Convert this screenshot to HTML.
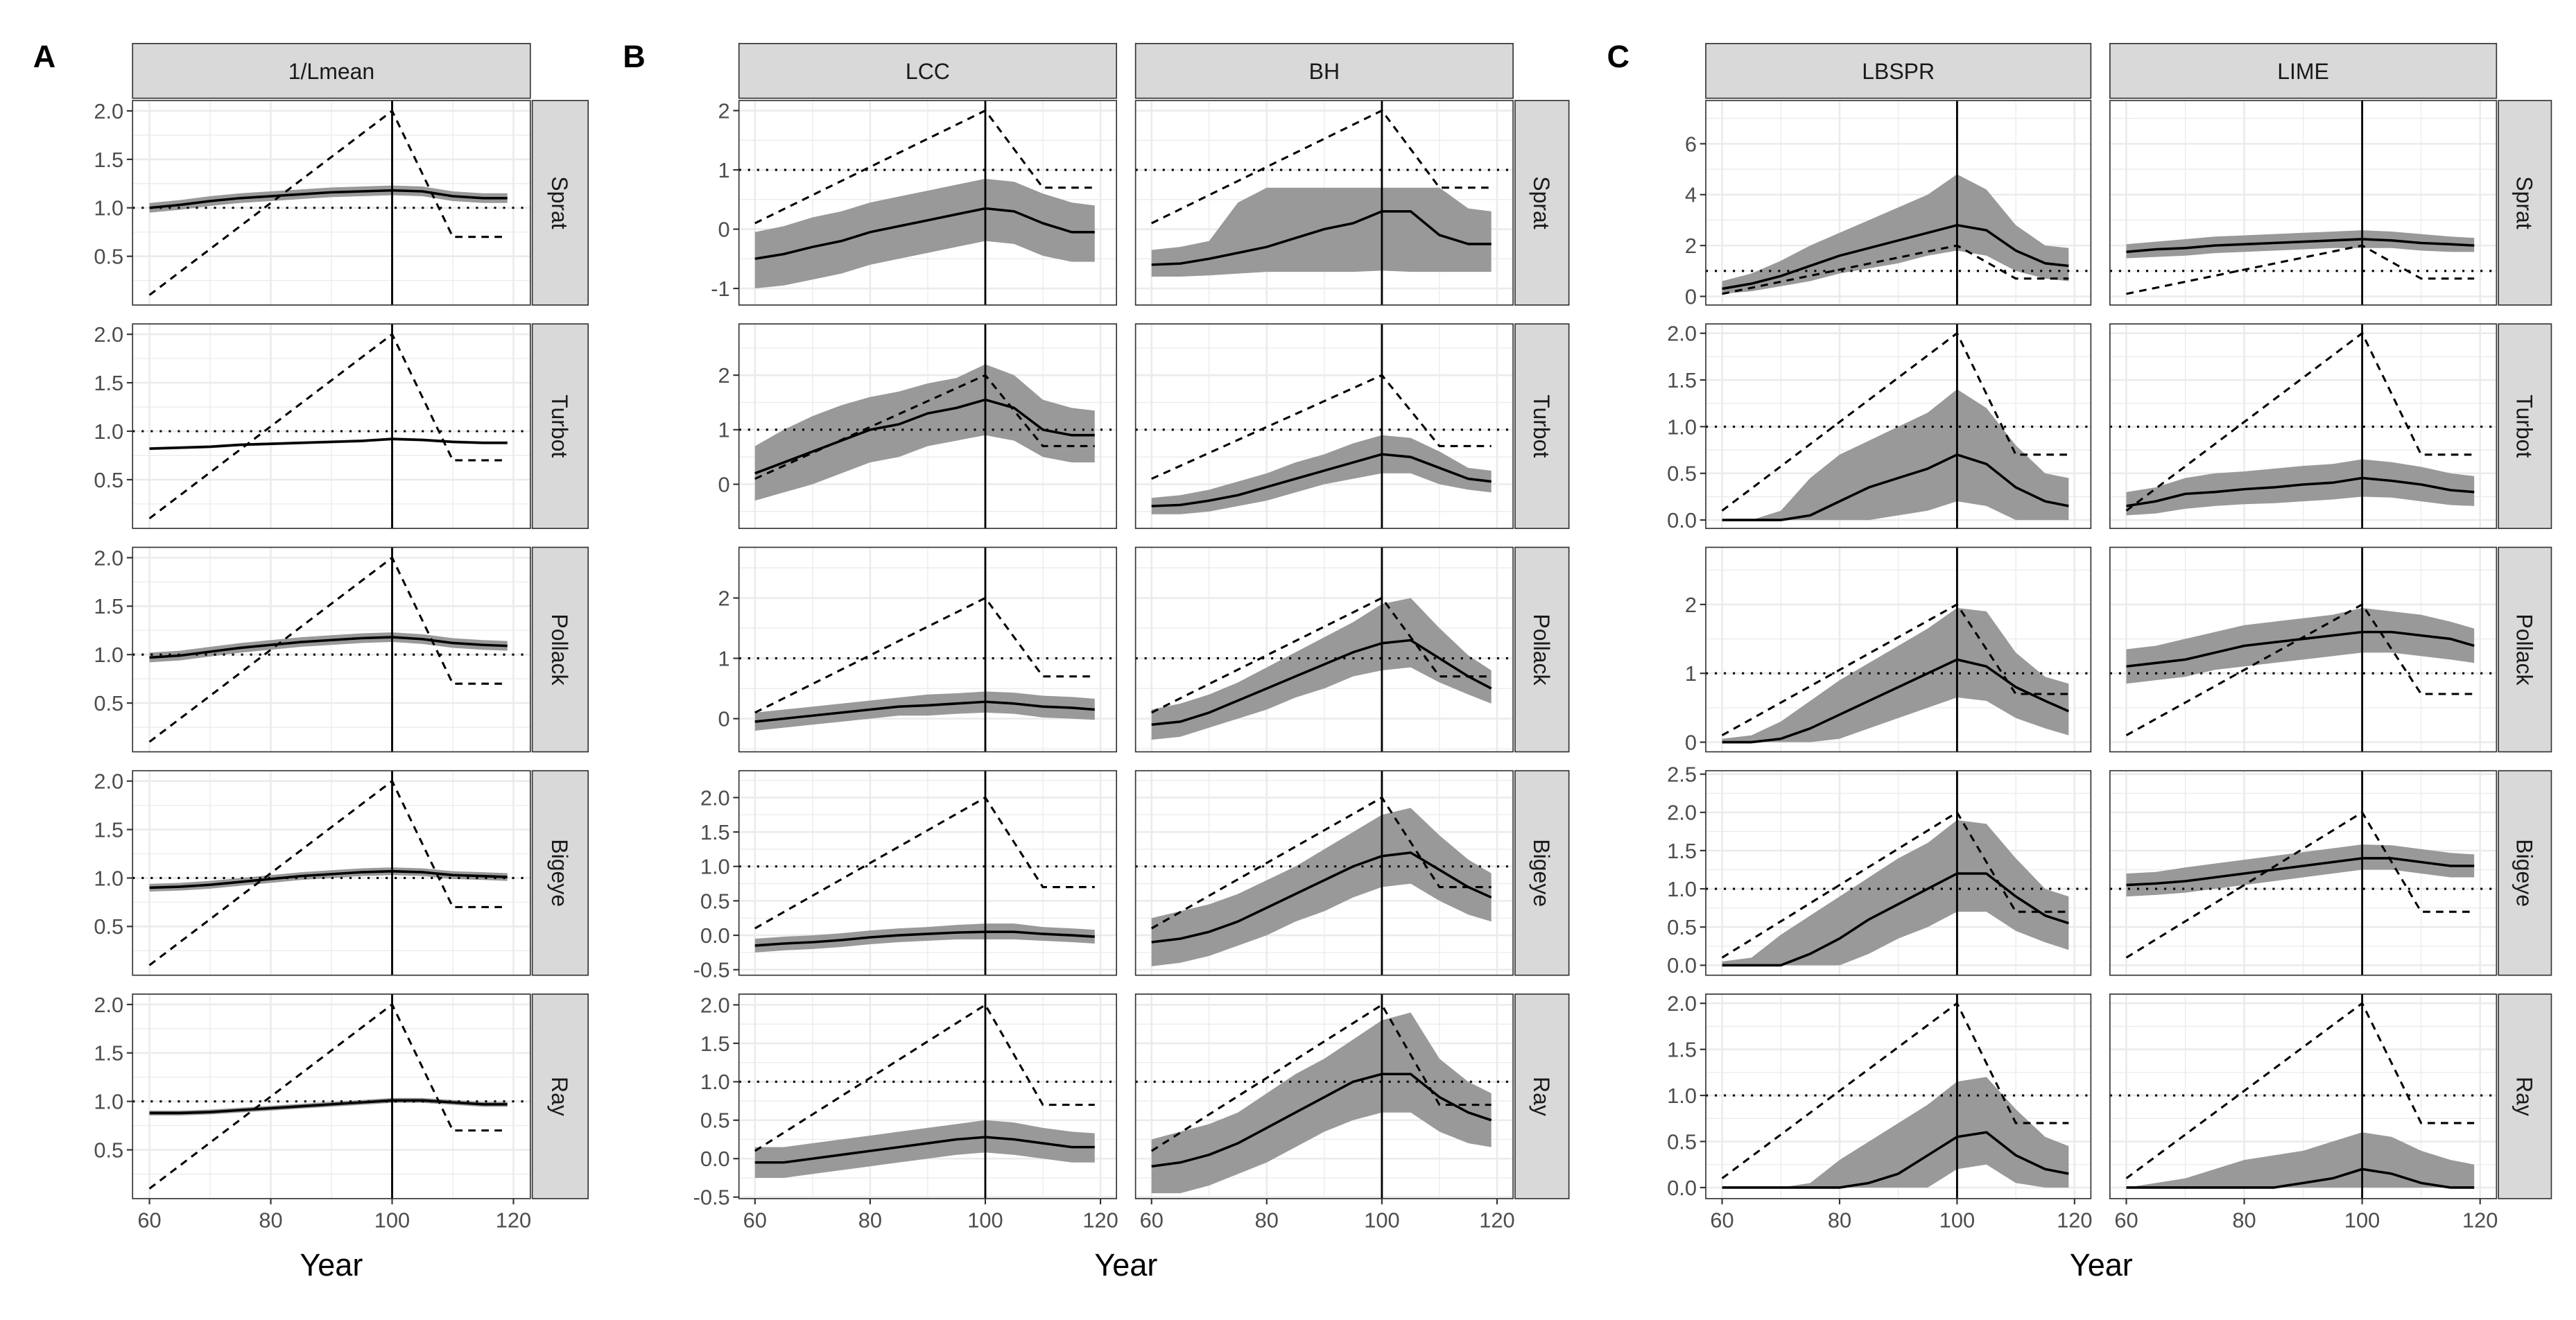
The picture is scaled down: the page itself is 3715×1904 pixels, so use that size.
<!DOCTYPE html>
<html><head><meta charset="utf-8"><style>
html,body{margin:0;padding:0;background:#fff;}
svg{display:block;}
text{font-family:"Liberation Sans",sans-serif;}
</style></head><body>
<svg id="fig" xmlns="http://www.w3.org/2000/svg" width="3715" height="1904" viewBox="0 0 1568 803.6" preserveAspectRatio="none">
<rect x="0" y="0" width="1568" height="803.6" fill="#fff"/>
</svg>
<script>
// ---- data ----
const years = [60,65,70,75,80,85,90,95,100,105,110,115,119];
const truthYears = [60,100,110,119];
const truthValues = [0.1,2.0,0.7,0.7];
const refLine = 1;
const vlineYear = 100;
const methods = ["1/Lmean","LCC","BH","LBSPR","LIME"];
const species = ["Sprat","Turbot","Pollack","Bigeye","Ray"];
const xTicks = [60,80,100,120];

// 1/Lmean
const lmean_sprat_mid=[1.0,1.03,1.07,1.1,1.12,1.14,1.16,1.17,1.18,1.17,1.12,1.1,1.1];
const lmean_sprat_lo=[0.95,0.98,1.02,1.05,1.07,1.09,1.11,1.12,1.13,1.12,1.07,1.05,1.05];
const lmean_sprat_hi=[1.05,1.08,1.12,1.15,1.17,1.19,1.21,1.22,1.23,1.22,1.17,1.15,1.15];
const lmean_turbot_mid=[0.82,0.83,0.84,0.86,0.87,0.88,0.89,0.9,0.92,0.91,0.89,0.88,0.88];
const lmean_turbot_lo=[0.805,0.815,0.825,0.845,0.855,0.865,0.875,0.885,0.905,0.895,0.875,0.865,0.865];
const lmean_turbot_hi=[0.835,0.845,0.855,0.875,0.885,0.895,0.905,0.915,0.935,0.925,0.905,0.895,0.895];
const lmean_pollack_mid=[0.97,0.99,1.03,1.07,1.1,1.13,1.15,1.17,1.18,1.16,1.12,1.1,1.09];
const lmean_pollack_lo=[0.92,0.94,0.98,1.02,1.05,1.08,1.10,1.12,1.13,1.11,1.07,1.05,1.04];
const lmean_pollack_hi=[1.02,1.04,1.08,1.12,1.15,1.18,1.20,1.22,1.23,1.21,1.17,1.15,1.14];
const lmean_bigeye_mid=[0.9,0.91,0.93,0.96,0.99,1.02,1.04,1.06,1.07,1.06,1.03,1.02,1.01];
const lmean_bigeye_lo=[0.86,0.87,0.89,0.92,0.95,0.98,1.0,1.02,1.03,1.02,0.99,0.98,0.97];
const lmean_bigeye_hi=[0.94,0.95,0.97,1.0,1.03,1.06,1.08,1.1,1.11,1.1,1.07,1.06,1.05];
const lmean_ray_mid=[0.88,0.88,0.89,0.91,0.93,0.95,0.97,0.99,1.01,1.01,0.99,0.97,0.97];
const lmean_ray_lo=[0.855,0.855,0.865,0.885,0.905,0.925,0.945,0.965,0.985,0.985,0.965,0.945,0.945];
const lmean_ray_hi=[0.905,0.905,0.915,0.935,0.955,0.975,0.995,1.015,1.035,1.035,1.015,0.995,0.995];
// LCC
const lcc_sprat_mid=[-0.5,-0.42,-0.3,-0.2,-0.05,0.05,0.15,0.25,0.35,0.3,0.1,-0.05,-0.05];
const lcc_sprat_lo=[-1.0,-0.95,-0.85,-0.75,-0.6,-0.5,-0.4,-0.3,-0.2,-0.25,-0.45,-0.55,-0.55];
const lcc_sprat_hi=[-0.05,0.05,0.2,0.3,0.45,0.55,0.65,0.75,0.85,0.8,0.6,0.45,0.4];
const lcc_turbot_mid=[0.2,0.4,0.6,0.8,1.0,1.1,1.3,1.4,1.55,1.4,1.0,0.9,0.9];
const lcc_turbot_lo=[-0.3,-0.15,0.0,0.2,0.4,0.5,0.7,0.8,0.9,0.8,0.5,0.4,0.4];
const lcc_turbot_hi=[0.7,1.0,1.25,1.45,1.6,1.7,1.85,1.95,2.2,2.0,1.55,1.4,1.35];
const lcc_pollack_mid=[-0.05,0,0.05,0.1,0.15,0.2,0.22,0.25,0.28,0.25,0.2,0.18,0.15];
const lcc_pollack_lo=[-0.2,-0.15,-0.1,-0.05,0,0.05,0.05,0.08,0.1,0.08,0.02,0,-0.02];
const lcc_pollack_hi=[0.1,0.15,0.2,0.25,0.3,0.35,0.4,0.42,0.45,0.43,0.38,0.36,0.33];
const lcc_bigeye_mid=[-0.15,-0.12,-0.1,-0.07,-0.03,0,0.02,0.04,0.05,0.05,0.02,0,-0.02];
const lcc_bigeye_lo=[-0.25,-0.22,-0.2,-0.17,-0.13,-0.1,-0.08,-0.06,-0.06,-0.06,-0.08,-0.1,-0.12];
const lcc_bigeye_hi=[-0.05,-0.02,0,0.03,0.07,0.1,0.12,0.15,0.17,0.17,0.12,0.1,0.08];
const lcc_ray_mid=[-0.05,-0.05,0,0.05,0.1,0.15,0.2,0.25,0.28,0.25,0.2,0.15,0.15];
const lcc_ray_lo=[-0.25,-0.25,-0.2,-0.15,-0.1,-0.05,0,0.05,0.08,0.05,0,-0.05,-0.05];
const lcc_ray_hi=[0.15,0.15,0.2,0.25,0.3,0.35,0.4,0.45,0.5,0.47,0.4,0.35,0.33];
// BH
const bh_sprat_mid=[-0.6,-0.58,-0.5,-0.4,-0.3,-0.15,0,0.1,0.3,0.3,-0.1,-0.25,-0.25];
const bh_sprat_lo=[-0.8,-0.8,-0.78,-0.75,-0.72,-0.72,-0.72,-0.72,-0.7,-0.72,-0.72,-0.72,-0.72];
const bh_sprat_hi=[-0.35,-0.3,-0.2,0.45,0.7,0.7,0.7,0.7,0.7,0.7,0.7,0.35,0.3];
const bh_turbot_mid=[-0.4,-0.38,-0.3,-0.2,-0.05,0.1,0.25,0.4,0.55,0.5,0.3,0.1,0.05];
const bh_turbot_lo=[-0.55,-0.55,-0.5,-0.4,-0.3,-0.15,0,0.1,0.2,0.2,0,-0.1,-0.15];
const bh_turbot_hi=[-0.25,-0.2,-0.1,0.05,0.2,0.4,0.55,0.75,0.9,0.85,0.6,0.3,0.25];
const bh_pollack_mid=[-0.1,-0.05,0.1,0.3,0.5,0.7,0.9,1.1,1.25,1.3,1.0,0.7,0.5];
const bh_pollack_lo=[-0.35,-0.3,-0.15,0,0.15,0.35,0.5,0.7,0.8,0.85,0.6,0.4,0.25];
const bh_pollack_hi=[0.15,0.25,0.4,0.6,0.85,1.1,1.35,1.6,1.9,2.0,1.5,1.05,0.8];
const bh_bigeye_mid=[-0.1,-0.05,0.05,0.2,0.4,0.6,0.8,1.0,1.15,1.2,0.95,0.7,0.55];
const bh_bigeye_lo=[-0.45,-0.4,-0.3,-0.15,0,0.2,0.35,0.55,0.7,0.75,0.5,0.3,0.2];
const bh_bigeye_hi=[0.25,0.35,0.45,0.6,0.8,1.0,1.25,1.5,1.75,1.85,1.45,1.1,0.9];
const bh_ray_mid=[-0.1,-0.05,0.05,0.2,0.4,0.6,0.8,1.0,1.1,1.1,0.8,0.6,0.5];
const bh_ray_lo=[-0.45,-0.45,-0.35,-0.2,-0.05,0.15,0.35,0.5,0.6,0.6,0.35,0.2,0.15];
const bh_ray_hi=[0.25,0.35,0.45,0.6,0.85,1.1,1.3,1.55,1.8,1.9,1.3,1.0,0.85];
// LBSPR
const lbspr_sprat_mid=[0.3,0.5,0.8,1.2,1.6,1.9,2.2,2.5,2.8,2.6,1.8,1.3,1.2];
const lbspr_sprat_lo=[0.1,0.2,0.4,0.6,0.9,1.1,1.3,1.6,1.8,1.6,1.0,0.7,0.6];
const lbspr_sprat_hi=[0.6,0.9,1.4,2.0,2.5,3.0,3.5,4.0,4.8,4.2,2.8,2.0,1.9];
const lbspr_turbot_mid=[0,0,0,0.05,0.2,0.35,0.45,0.55,0.7,0.6,0.35,0.2,0.15];
const lbspr_turbot_lo=[0,0,0,0,0,0,0.05,0.1,0.2,0.15,0,0,0];
const lbspr_turbot_hi=[0,0,0.1,0.45,0.7,0.85,1.0,1.15,1.4,1.2,0.8,0.5,0.45];
const lbspr_pollack_mid=[0,0,0.05,0.2,0.4,0.6,0.8,1.0,1.2,1.1,0.8,0.6,0.45];
const lbspr_pollack_lo=[0,0,0,0,0.05,0.2,0.35,0.5,0.65,0.6,0.35,0.2,0.1];
const lbspr_pollack_hi=[0.05,0.1,0.3,0.6,0.9,1.15,1.4,1.65,1.95,1.9,1.3,0.95,0.85];
const lbspr_bigeye_mid=[0,0,0,0.15,0.35,0.6,0.8,1.0,1.2,1.2,0.9,0.65,0.55];
const lbspr_bigeye_lo=[0,0,0,0,0,0.15,0.35,0.5,0.7,0.7,0.45,0.3,0.2];
const lbspr_bigeye_hi=[0.05,0.1,0.4,0.65,0.9,1.15,1.4,1.6,1.9,1.85,1.4,1.0,0.9];
const lbspr_ray_mid=[0,0,0,0,0,0.05,0.15,0.35,0.55,0.6,0.35,0.2,0.15];
const lbspr_ray_lo=[0,0,0,0,0,0,0,0,0.2,0.25,0.05,0,0];
const lbspr_ray_hi=[0,0,0,0.05,0.3,0.5,0.7,0.9,1.15,1.2,0.85,0.55,0.45];
// LIME
const lime_sprat_mid=[1.75,1.85,1.9,2.0,2.05,2.1,2.15,2.2,2.25,2.2,2.1,2.05,2.0];
const lime_sprat_lo=[1.5,1.55,1.6,1.7,1.75,1.8,1.85,1.9,1.9,1.9,1.8,1.75,1.75];
const lime_sprat_hi=[2.05,2.15,2.25,2.35,2.4,2.45,2.5,2.55,2.6,2.55,2.45,2.35,2.3];
const lime_turbot_mid=[0.15,0.2,0.28,0.3,0.33,0.35,0.38,0.4,0.45,0.42,0.38,0.32,0.3];
const lime_turbot_lo=[0.05,0.07,0.12,0.15,0.17,0.18,0.2,0.22,0.25,0.24,0.2,0.16,0.15];
const lime_turbot_hi=[0.3,0.35,0.45,0.5,0.52,0.55,0.58,0.6,0.65,0.62,0.57,0.5,0.47];
const lime_pollack_mid=[1.1,1.15,1.2,1.3,1.4,1.45,1.5,1.55,1.6,1.6,1.55,1.5,1.4];
const lime_pollack_lo=[0.85,0.9,0.95,1.05,1.1,1.15,1.2,1.25,1.3,1.3,1.25,1.2,1.15];
const lime_pollack_hi=[1.35,1.4,1.5,1.6,1.7,1.75,1.8,1.85,1.95,1.9,1.85,1.75,1.65];
const lime_bigeye_mid=[1.05,1.07,1.1,1.15,1.2,1.25,1.3,1.35,1.4,1.4,1.35,1.3,1.3];
const lime_bigeye_lo=[0.9,0.92,0.95,1.0,1.05,1.1,1.15,1.2,1.25,1.25,1.2,1.15,1.15];
const lime_bigeye_hi=[1.2,1.22,1.28,1.33,1.38,1.43,1.48,1.53,1.58,1.57,1.52,1.47,1.45];
const lime_ray_mid=[0,0,0,0,0,0,0.05,0.1,0.2,0.15,0.05,0,0];
const lime_ray_lo=[0,0,0,0,0,0,0,0,0,0,0,0,0];
const lime_ray_hi=[0,0.05,0.1,0.2,0.3,0.35,0.4,0.5,0.6,0.55,0.4,0.3,0.25];

// y-axis tick labels per group/row
const yTicksA = ["0.5","1.0","1.5","2.0"];
const yTicksB = [["-1","0","1","2"],["0","1","2"],["0","1","2"],["-0.5","0.0","0.5","1.0","1.5","2.0"],["-0.5","0.0","0.5","1.0","1.5","2.0"]];
const yTicksC = [["0","2","4","6"],["0.0","0.5","1.0","1.5","2.0"],["0","1","2"],["0.0","0.5","1.0","1.5","2.0","2.5"],["0.0","0.5","1.0","1.5","2.0"]];

// ---- layout (not data) ----
const ylimA = [-0.003,2.107];
const ylimB = [[-1.28,2.17],[-0.81,2.94],[-0.55,2.84],[-0.58,2.39],[-0.52,2.14]];
const ylimC = [[-0.34,7.7],[-0.09,2.1],[-0.14,2.83],[-0.13,2.545],[-0.12,2.10]];
const rowTop = [61.2,197.2,333.2,469.2,605.2];
const rowH = 124.5;
const stripTop = 26.5, stripBot = 59.8;
const panels = [
  {key:"lmean", name:"1/Lmean", x0:80.7, x1:322.8, group:"A", sr:358, showY:true},
  {key:"lcc", name:"LCC", x0:449.8, x1:679.6, group:"B", sr:null, showY:true},
  {key:"bh", name:"BH", x0:691.2, x1:921.0, group:"B", sr:955, showY:false},
  {key:"lbspr", name:"LBSPR", x0:1038.3, x1:1272.7, group:"C", sr:null, showY:true},
  {key:"lime", name:"LIME", x0:1284.3, x1:1519.6, group:"C", sr:1553, showY:false}
];
const XPAD = 2.78;
const NS = "http://www.w3.org/2000/svg";
const svg = document.getElementById("fig");
function mk(tag, attrs, parent){
  const e = document.createElementNS(NS, tag);
  for (const k in attrs) e.setAttribute(k, attrs[k]);
  (parent||svg).appendChild(e);
  return e;
}
const dataArrays = {
 lmean:{sprat:[lmean_sprat_mid,lmean_sprat_lo,lmean_sprat_hi],turbot:[lmean_turbot_mid,lmean_turbot_lo,lmean_turbot_hi],pollack:[lmean_pollack_mid,lmean_pollack_lo,lmean_pollack_hi],bigeye:[lmean_bigeye_mid,lmean_bigeye_lo,lmean_bigeye_hi],ray:[lmean_ray_mid,lmean_ray_lo,lmean_ray_hi]},
 lcc:{sprat:[lcc_sprat_mid,lcc_sprat_lo,lcc_sprat_hi],turbot:[lcc_turbot_mid,lcc_turbot_lo,lcc_turbot_hi],pollack:[lcc_pollack_mid,lcc_pollack_lo,lcc_pollack_hi],bigeye:[lcc_bigeye_mid,lcc_bigeye_lo,lcc_bigeye_hi],ray:[lcc_ray_mid,lcc_ray_lo,lcc_ray_hi]},
 bh:{sprat:[bh_sprat_mid,bh_sprat_lo,bh_sprat_hi],turbot:[bh_turbot_mid,bh_turbot_lo,bh_turbot_hi],pollack:[bh_pollack_mid,bh_pollack_lo,bh_pollack_hi],bigeye:[bh_bigeye_mid,bh_bigeye_lo,bh_bigeye_hi],ray:[bh_ray_mid,bh_ray_lo,bh_ray_hi]},
 lbspr:{sprat:[lbspr_sprat_mid,lbspr_sprat_lo,lbspr_sprat_hi],turbot:[lbspr_turbot_mid,lbspr_turbot_lo,lbspr_turbot_hi],pollack:[lbspr_pollack_mid,lbspr_pollack_lo,lbspr_pollack_hi],bigeye:[lbspr_bigeye_mid,lbspr_bigeye_lo,lbspr_bigeye_hi],ray:[lbspr_ray_mid,lbspr_ray_lo,lbspr_ray_hi]},
 lime:{sprat:[lime_sprat_mid,lime_sprat_lo,lime_sprat_hi],turbot:[lime_turbot_mid,lime_turbot_lo,lime_turbot_hi],pollack:[lime_pollack_mid,lime_pollack_lo,lime_pollack_hi],bigeye:[lime_bigeye_mid,lime_bigeye_lo,lime_bigeye_hi],ray:[lime_ray_mid,lime_ray_lo,lime_ray_hi]}
};

panels.forEach((p, pi) => {
  const xs = v => p.x0 + (v - (60 - XPAD)) / ((120 + XPAD) - (60 - XPAD)) * (p.x1 - p.x0);
  const st = mk("rect",{x:p.x0,y:stripTop,width:p.x1-p.x0,height:stripBot-stripTop,fill:"#D9D9D9",stroke:"#333",'stroke-width':0.7});
  
  
  const stt = mk("text",{x:(p.x0+p.x1)/2,y:(stripTop+stripBot)/2+5,'text-anchor':'middle','font-size':13.5,fill:"#1A1A1A"});
  stt.textContent = p.name;
  
  

  species.forEach((sp, ri) => {
    const top = rowTop[ri], bot = top + rowH;
    let ylim, labels;
    if (p.group==="A"){ ylim = ylimA; labels = yTicksA; }
    else if (p.group==="B"){ ylim = ylimB[ri]; labels = yTicksB[ri]; }
    else { ylim = ylimC[ri]; labels = yTicksC[ri]; }
    const ys = v => bot - (v - ylim[0]) / (ylim[1]-ylim[0]) * rowH;
    const g = mk("g",{});
    
    
    mk("rect",{x:p.x0,y:top,width:p.x1-p.x0,height:rowH,fill:"#fff"},g);
    const tv = labels.map(Number);
    const step = tv[1]-tv[0];
    for (let v = tv[0]-step/2; v <= ylim[1]; v += step/2){
      if (v < ylim[0]) continue;
      const major = tv.some(t => Math.abs(t-v) < 1e-6);
      const y = ys(v);
      mk("line",{x1:p.x0,x2:p.x1,y1:y,y2:y,stroke:"#EBEBEB",'stroke-width':major?1.1:0.55},g);
    }
    [60,70,80,90,100,110,120].forEach(v => {
      const x = xs(v), major = v%20===0;
      mk("line",{x1:x,x2:x,y1:top,y2:bot,stroke:"#EBEBEB",'stroke-width':major?1.1:0.55},g);
    });
    const [mid, lo, hi] = dataArrays[p.key][sp.toLowerCase()];
    let d = "";
    years.forEach((yr,i) => { d += (i?"L":"M") + xs(yr).toFixed(2) + "," + ys(hi[i]).toFixed(2); });
    for (let i = years.length-1; i >= 0; i--) d += "L" + xs(years[i]).toFixed(2) + "," + ys(lo[i]).toFixed(2);
    const band = mk("path",{d:d+"Z",fill:"#999999",stroke:"none"},g);
    
    
    const hl = mk("line",{x1:p.x0,x2:p.x1,y1:ys(refLine),y2:ys(refLine),stroke:"#000",'stroke-width':1.3,'stroke-dasharray':'1.3,4.2'},g);
    
    
    let td = "";
    truthYears.forEach((yr,i) => { td += (i?"L":"M") + xs(yr).toFixed(2) + "," + ys(truthValues[i]).toFixed(2); });
    const tl = mk("path",{d:td,fill:"none",stroke:"#000",'stroke-width':1.3,'stroke-dasharray':'4.5,3.5'},g);
    
    
    let md = "";
    years.forEach((yr,i) => { md += (i?"L":"M") + xs(yr).toFixed(2) + "," + ys(mid[i]).toFixed(2); });
    const ml = mk("path",{d:md,fill:"none",stroke:"#000",'stroke-width':1.5,'stroke-linejoin':'round'},g);
    
    
    const vl = mk("line",{x1:xs(vlineYear),x2:xs(vlineYear),y1:top,y2:bot,stroke:"#000",'stroke-width':1.2},g);
    
    
    mk("rect",{x:p.x0,y:top,width:p.x1-p.x0,height:rowH,fill:"none",stroke:"#333",'stroke-width':0.7},g);
    if (p.showY){
      labels.forEach((lab, k) => {
        const y = ys(tv[k]);
        mk("line",{x1:p.x0-3.5,x2:p.x0,y1:y,y2:y,stroke:"#333",'stroke-width':0.9},g);
        const t = mk("text",{x:p.x0-5.5,y:y+4.6,'text-anchor':'end','font-size':13,fill:"#4D4D4D"},g);
        t.textContent = lab;
        
        
      });
    }
    if (p.sr){
      const rs = mk("rect",{x:p.x1+1.2,y:top,width:p.sr-p.x1-1.2,height:rowH,fill:"#D9D9D9",stroke:"#333",'stroke-width':0.7});
      
      
      const cx = (p.x1+1.2+p.sr)/2, cy = top+rowH/2;
      const rt = mk("text",{x:cx,y:cy,'text-anchor':'middle','font-size':13.5,fill:"#1A1A1A",transform:`rotate(90 ${cx} ${cy}) translate(0 5)`});
      rt.textContent = sp;
      
      
    }
    if (ri === 4){
      xTicks.forEach(v => {
        const x = xs(v);
        mk("line",{x1:x,x2:x,y1:bot,y2:bot+3.5,stroke:"#333",'stroke-width':0.9});
        const t = mk("text",{x:x,y:bot+17.5,'text-anchor':'middle','font-size':13,fill:"#4D4D4D"});
        t.textContent = v;
        
        
      });
    }
  });
});

[[201.7,"A"],[685.4,"B"],[1279,"C"]].forEach(([cx,g]) => {
  const t = mk("text",{x:cx,y:776.5,'text-anchor':'middle','font-size':19,fill:"#000"});
  t.textContent = "Year";
  
  
});
[[27,"A"],[386,"B"],[985,"C"]].forEach(([x,l]) => {
  const t = mk("text",{x:x,y:41,'text-anchor':'middle','font-size':19,'font-weight':'bold',fill:"#000"});
  t.textContent = l;
  
  
});
</script>
</body></html>
